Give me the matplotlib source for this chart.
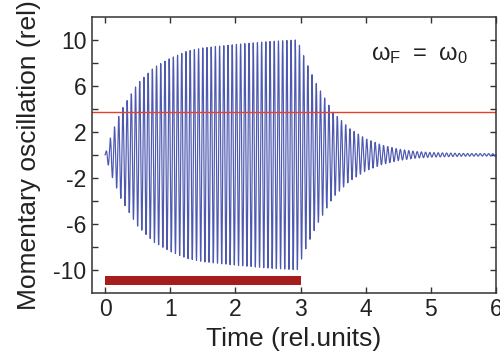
import matplotlib
matplotlib.use("Agg")
import matplotlib.pyplot as plt
import numpy as np

# envelope of the oscillation (time, amplitude)
env_t = [0.0, 0.1, 0.25, 0.5, 0.75, 1.0, 1.25, 1.5, 2.0, 2.5, 2.95,
         3.1, 3.25, 3.5, 3.75, 4.0, 4.25, 4.5, 4.75, 5.0, 5.5, 6.0]
env_a = [0.0, 1.8, 3.9, 6.2, 7.6, 8.4, 9.0, 9.3, 9.6, 9.85, 10.0,
         7.9, 6.1, 3.7, 2.3, 1.4, 0.85, 0.5, 0.3, 0.2, 0.12, 0.1]
cycles_per_unit = 15.5

threshold = 3.7          # red horizontal line
force_on = [0.0, 3.0]    # dark red bar: driving force switched on
bar_y = -10.9

plt.rcParams['font.family'] = ['Liberation Sans', 'DejaVu Sans']

fig = plt.figure(figsize=(5, 3.58), dpi=100)
ax = fig.add_axes([0.184, 0.182, 0.808, 0.771])

t = np.linspace(0, 6, 6000)
amp = np.interp(t, env_t, env_a)
ax.plot(t, amp * np.sin(2 * np.pi * cycles_per_unit * t), color='#4d58b0', lw=0.85)

ax.axhline(threshold, color='#e8402a', lw=1.0)
ax.barh(bar_y, force_on[1] - force_on[0], left=force_on[0], height=0.75,
        color='#a51d1d')

ax.text(4.83, 8.7, r'$\mathregular{\omega_F\ =\ \omega_0}$', fontsize=17,
        ha='center', va='center', color='#222222')

ax.set_xlim(-0.2, 5.95)
ax.set_ylim(-12, 12)
ax.set_xticks(range(0, 7))
ax.set_yticks(range(-10, 11, 2))
ax.set_yticklabels([str(v) if v % 4 == 2 or v % 4 == -2 else '' for v in range(-10, 11, 2)])
ax.tick_params(direction='in', length=4, width=1, top=True, right=True,
               labelsize=16.5, colors='#333333', labelcolor='#222222', pad=4)
for s in ax.spines.values():
    s.set_linewidth(1.1)
    s.set_color('#333333')

ax.set_xlabel('Time (rel.units)', fontsize=19, color='#222222', labelpad=4)
ax.set_ylabel('Momentary oscillation (rel)', fontsize=19, color='#222222', labelpad=9)

fig.savefig('out.png', dpi=100)
